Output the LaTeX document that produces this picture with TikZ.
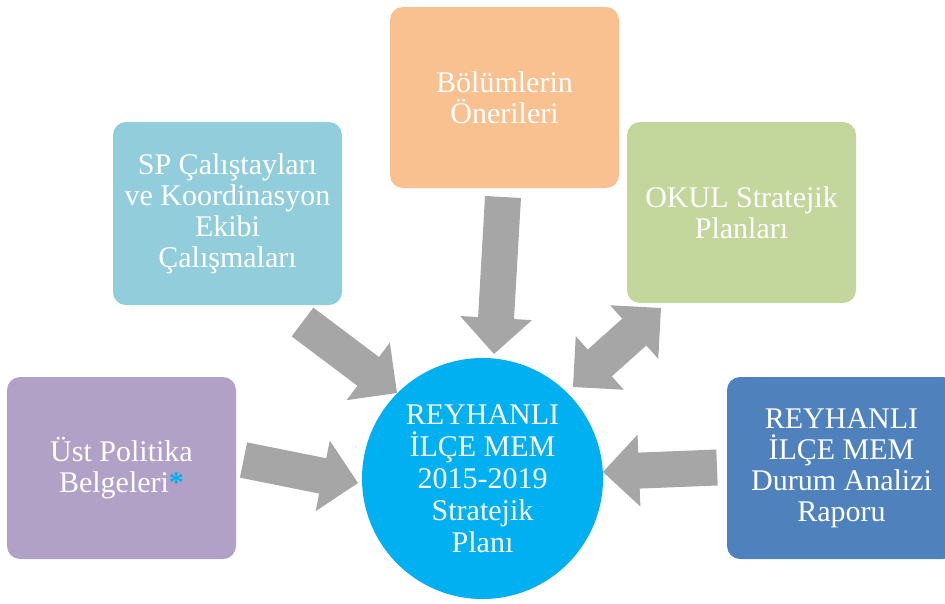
\documentclass[tikz,border=0pt]{standalone}
\usepackage{fontspec}
\setmainfont{Liberation Serif}
\usetikzlibrary{calc}
\definecolor{cOrange}{HTML}{F9C190}
\definecolor{cLightBlue}{HTML}{92CDDC}
\definecolor{cGreen}{HTML}{C3D69B}
\definecolor{cPurple}{HTML}{B2A1C7}
\definecolor{cDarkBlue}{HTML}{4F81BD}
\definecolor{cCyan}{HTML}{00B0F0}
\definecolor{cGray}{HTML}{A6A6A6}
\newcommand\blockarrowAB[2]{%
  \coordinate (ba-m) at ($(#2)!36pt!(#1)$);
  \fill[blockarrow] ($(#1)!18pt!90:(#2)$) -- ($(ba-m)!18pt!90:(#2)$) -- ($(ba-m)!36pt!90:(#2)$) -- (#2) -- ($(ba-m)!36pt!-90:(#2)$) -- ($(ba-m)!18pt!-90:(#2)$) -- ($(#1)!18pt!-90:(#2)$) -- cycle;
}
\newcommand\dblarrowAB[2]{%
  \coordinate (da-m1) at ($(#1)!36pt!(#2)$);
  \coordinate (da-m2) at ($(#2)!36pt!(#1)$);
  \fill[blockarrow] (#1) -- ($(da-m1)!36pt!90:(#2)$) -- ($(da-m1)!18pt!90:(#2)$) -- ($(da-m2)!18pt!90:(#2)$) -- ($(da-m2)!36pt!90:(#2)$) -- (#2) -- ($(da-m2)!36pt!-90:(#2)$) -- ($(da-m2)!18pt!-90:(#2)$) -- ($(da-m1)!18pt!-90:(#2)$) -- ($(da-m1)!36pt!-90:(#2)$) -- cycle;
}
\begin{document}
\begin{tikzpicture}[x=1pt,y=-1pt,
  blockarrow/.style={fill=cGray},
  box/.style={rounded corners=13pt, minimum width=229pt, minimum height=181pt,
    align=center, text=white, inner sep=0pt, font=\fontsize{30}{31}\selectfont},
  hub/.style={circle, fill=cCyan, minimum size=241pt, inner sep=0pt,
    align=center, text=white, font=\fontsize{30}{32}\selectfont}]
\useasboundingbox (0,0) rectangle (945,603);
\clip (0,0) rectangle (945,603);
% nodes
\node[box, fill=cOrange] (bol) at (504.5,97.5) {Bölümlerin\\Önerileri};
\node[box, fill=cLightBlue, minimum height=183pt] (sp) at (227.5,213.5) {SP Çalıştayları\\ve Koordinasyon\\Ekibi\\Çalışmaları};
\node[box, fill=cGreen] (okul) at (741.5,212.5) {OKUL Stratejik\\Planları};
\node[box, fill=cPurple, minimum height=182pt] (ust) at (121.5,468) {Üst Politika\\Belgeleri{\color{cCyan}\bfseries*}};
\node[box, fill=cDarkBlue, minimum height=182pt] (durum) at (841.5,468) {REYHANLI\\İLÇE MEM\\Durum Analizi\\Raporu};
\node[hub] (plan) at (482.5,478.5) {REYHANLI\\İLÇE MEM\\2015-2019\\Stratejik\\Planı};
% connector ends
\coordinate (a1t) at (503,197);   \coordinate (a1h) at (494,354);
\coordinate (a2t) at (302.5,322); \coordinate (a2h) at (397,393);
\coordinate (a3t) at (573,387);   \coordinate (a3h) at (661,308);
\coordinate (a4t) at (243.5,460); \coordinate (a4h) at (358,483);
\coordinate (a5t) at (717,467.5); \coordinate (a5h) at (603,472);
% connectors
\blockarrowAB{a1t}{a1h}
\blockarrowAB{a2t}{a2h}
\dblarrowAB{a3t}{a3h}
\blockarrowAB{a4t}{a4h}
\blockarrowAB{a5t}{a5h}
\end{tikzpicture}
\end{document}
